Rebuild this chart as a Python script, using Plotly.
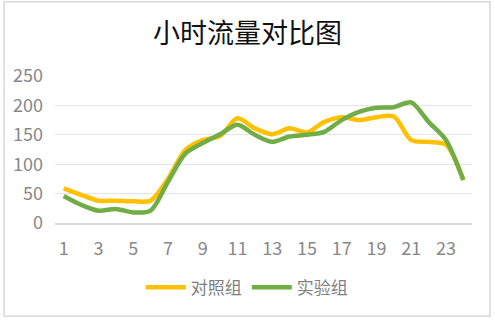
import plotly.graph_objects as go

hours = list(range(1, 25))
control = [59, 48, 38, 38, 37, 38, 75, 124, 141, 148, 178, 161, 151, 161, 154, 172, 180, 175, 180, 181, 141, 138, 133, 73]
experiment = [46, 31, 21, 24, 18, 21, 70, 118, 136, 151, 167, 150, 138, 147, 150, 155, 175, 189, 196, 197, 205, 172, 141, 73]
tick_hours = list(range(1, 25, 2))
title_text = "小时流量对比图"
names = ["对照组", "实验组"]

fig = go.Figure()
fig.add_trace(go.Scatter(x=hours, y=control, mode="lines", name=names[0],
                         line=dict(color="#FFC000", width=4.5, shape="spline", smoothing=0.8)))
fig.add_trace(go.Scatter(x=hours, y=experiment, mode="lines", name=names[1],
                         line=dict(color="#70AD47", width=4.5, shape="spline", smoothing=0.8)))

fig.update_layout(
    width=495, height=331,
    margin=dict(l=55, r=23, t=76, b=108),
    paper_bgcolor="white", plot_bgcolor="white",
    title=dict(text=title_text, x=0.5, xanchor="center", y=1 - 34 / 331, yanchor="middle",
               font=dict(family="Noto Sans CJK SC", size=27, color="#111111")),
    font=dict(family="Noto Sans CJK SC", color="#7f7f7f"),
    xaxis=dict(range=[0.5, 24.5], tickvals=tick_hours, ticktext=[str(h) for h in tick_hours],
               showgrid=False, showline=True, linecolor="#d9d9d9", linewidth=1.5,
               ticks="", tickfont=dict(size=18, color="#888888"), ticklabelstandoff=9,
               zeroline=False, fixedrange=True),
    yaxis=dict(range=[0, 250], tickvals=[0, 50, 100, 150, 200, 250], showgrid=True,
               gridcolor="#e5e5e5", gridwidth=1.2, zeroline=False, ticks="",
               tickfont=dict(size=18, color="#888888"), ticklabelstandoff=11, fixedrange=True),
    legend=dict(orientation="h", x=0.46, xanchor="center", y=-0.44, yanchor="middle",
                font=dict(size=17, color="#7f7f7f"), itemwidth=40, tracegroupgap=0),
    showlegend=True,
    shapes=[dict(type="rect", xref="paper", yref="paper", x0=-0.122, x1=1.043, y0=-0.635, y1=1.505,
                 line=dict(color="#d9d9d9", width=1.5), layer="below")],
)

fig.write_html("out.html")
